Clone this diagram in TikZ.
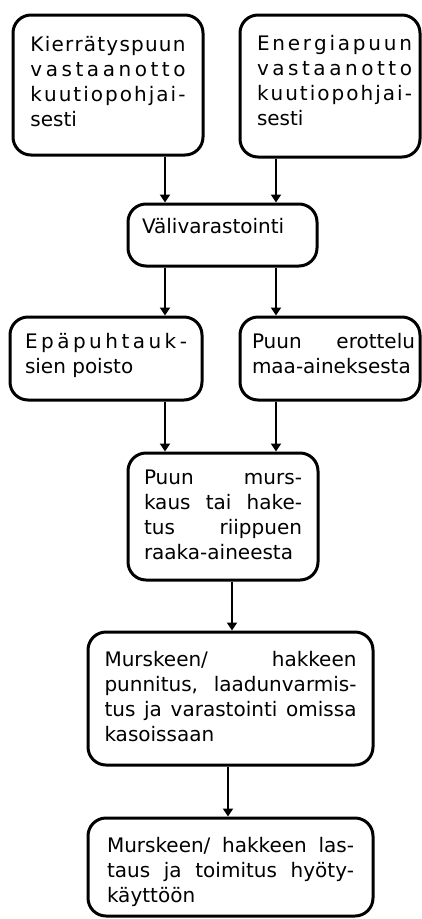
\documentclass[tikz,border=0pt]{standalone}
\usepackage{fontspec}
\setmainfont{DejaVu Sans}
\usetikzlibrary{arrows.meta}
% justified line, natural line (with line struts)
\newcommand{\JL}[2][\linewidth]{\makebox[#1][s]{\spaceskip=0pt\xspaceskip=0pt\rule[-7pt]{0pt}{25pt}#2}}
\newcommand{\LL}[2][\linewidth]{\makebox[#1][l]{\spaceskip=0pt\xspaceskip=0pt\rule[-7pt]{0pt}{25pt}#2}}
\tikzset{
  box/.style={draw=black, line width=3pt, rounded corners=18pt, inner sep=0pt,
    align=left, font=\fontsize{20}{25}\selectfont},
  arr/.style={line width=2.8pt, -{Triangle[width=10pt,length=8pt]}},
}
\begin{document}
\begin{tikzpicture}[x=1pt,y=-1pt]
\useasboundingbox (0,0) rectangle (422,919);
\fill[white] (0,0) rectangle (422,919);

\node[box, minimum width=190pt, minimum height=140pt, text width=155pt] (b1) at (108,85)
 {\JL{K\hfil i\hfil e\hfil r\hfil r\hfil ä\hfil t\hfil y\hfil s\hfil p\hfil u\hfil u\hfil n}\\
  \JL{v\hfil a\hfil s\hfil t\hfil a\hfil a\hfil n\hfil o\hfil t\hfil t\hfil o}\\
  \JL{k\hfil u\hfil u\hfil t\hfil i\hfil o\hfil p\hfil o\hfil h\hfil j\hfil a\hfil i\hfil -}\\
  \LL{sesti\rule[-10pt]{0pt}{0pt}}};

\node[box, minimum width=180pt, minimum height=142pt, text width=164pt] (b2) at (330,86)
 {\hspace*{9pt}\JL[155pt]{E\hfil n\hfil e\hfil r\hfil g\hfil i\hfil a\hfil p\hfil u\hfil u\hfil n}\\
  \hspace*{9pt}\JL[155pt]{v\hfil a\hfil s\hfil t\hfil a\hfil a\hfil n\hfil o\hfil t\hfil t\hfil o}\\
  \hspace*{9pt}\JL[155pt]{k\hfil u\hfil u\hfil t\hfil i\hfil o\hfil p\hfil o\hfil h\hfil j\hfil a\hfil i\hfil -}\\
  \hspace*{9pt}\LL[155pt]{sesti\rule[-15pt]{0pt}{0pt}}};

\node[box, minimum width=189pt, minimum height=62pt, text width=161pt] (b3) at (222.5,235)
 {\LL{Välivarastointi\rule[-22pt]{0pt}{0pt}}};

\node[box, minimum width=192pt, minimum height=83pt, text width=162pt] (b4) at (106,358.5)
 {\JL{E\hfil p\hfil ä\hfil p\hfil u\hfil h\hfil t\hfil a\hfil u\hfil k\hfil -}\\
  \LL{sien poisto\rule[-14pt]{0pt}{0pt}}};

\node[box, minimum width=180pt, minimum height=83pt, text width=170pt] (b5) at (330,358.5)
 {\hspace*{7pt}\JL[163pt]{Puun erottelu}\\
  \hspace*{7pt}\LL[163pt]{maa-aineksesta\rule[-14pt]{0pt}{0pt}}};

\node[box, minimum width=190pt, minimum height=127pt, text width=158pt] (b6) at (223,516.5)
 {\JL{Puun murs-}\\
  \JL{kaus tai hake-}\\
  \JL{tus riippuen}\\
  \LL{raaka-aineesta}};

\node[box, minimum width=285pt, minimum height=133pt, text width=252pt] (b7) at (230.5,698.5)
 {\JL{Murskeen/ hakkeen}\\
  \JL{punnitus, laadunvarmis-}\\
  \JL{tus ja varastointi omissa}\\
  \LL{kasoissaan}};

\node[box, minimum width=285pt, minimum height=98pt, text width=247pt] (b8) at (230.5,867)
 {\JL{\rule{0pt}{28pt}Murskeen/ hakkeen las-}\\
  \JL{taus ja toimitus hyöty-}\\
  \LL{käyttöön}};

\coordinate (xl) at (165,0);
\coordinate (xr) at (276,0);
\coordinate (xm1) at (232,0);
\coordinate (xm2) at (228,0);

\draw[arr] (b1.south -| xl) -- (b3.north -| xl);
\draw[arr] (b2.south -| xr) -- (b3.north -| xr);
\draw[arr] (b3.south -| xl) -- (b4.north -| xl);
\draw[arr] (b3.south -| xr) -- (b5.north -| xr);
\draw[arr] (b4.south -| xl) -- (b6.north -| xl);
\draw[arr] (b5.south -| xr) -- (b6.north -| xr);
\draw[arr] (b6.south -| xm1) -- (b7.north -| xm1);
\draw[arr] (b7.south -| xm2) -- (b8.north -| xm2);
\end{tikzpicture}
\end{document}
